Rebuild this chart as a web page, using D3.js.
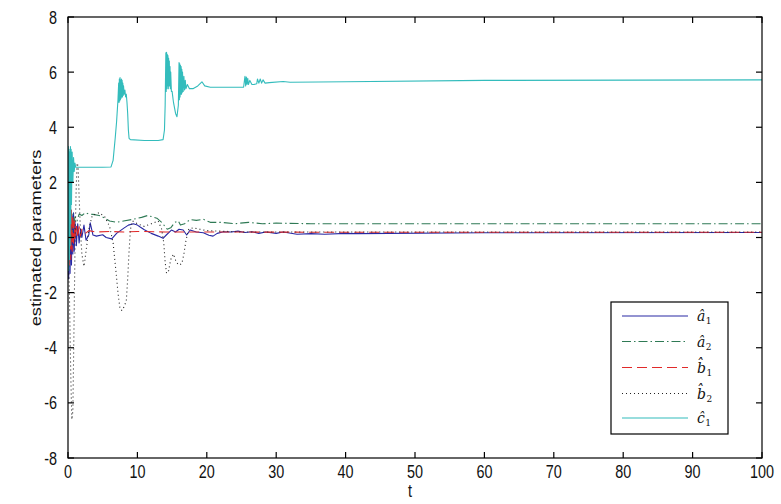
<!DOCTYPE html>
<html>
<head>
<meta charset="utf-8">
<script src="https://cdn.jsdelivr.net/npm/d3@7/dist/d3.min.js"></script>
<style>
  body { margin: 0; background: #fff; }
  svg { display: block; }
</style>
</head>
<body>
<svg id="chart" width="781" height="504"></svg>
<script>
// ---- data: parameter estimates over time, each point is [t, value] ----
const a1Data = [
  [0,0],[0.1,-1.5],[0.2,1.2],[0.3,-1.3],[0.4,1.0],[0.5,-1.0],[0.6,0.8],[0.7,-0.6],[0.8,0.9],
  [0.9,-0.5],[1.0,0.6],[1.2,-0.3],[1.4,0.5],[1.6,-0.2],[1.8,0.3],[2.0,0.0],[2.3,0.45],[2.6,-0.1],
  [3.0,0.1],[3.2,0.53],[3.6,0.09],[4.1,0.05],[5.0,0.1],[5.5,0.0],[6.3,-0.05],[7.0,0.15],[8.0,0.33],
  [8.7,0.45],[9.4,0.5],[10.0,0.45],[10.4,0.38],[11,0.28],[12,0.15],[13.0,0.05],[13.7,-0.03],
  [14.2,0.1],[14.9,0.27],[15.5,0.2],[16.0,0.3],[16.6,0.27],[17.1,0.09],[17.6,0.27],[18.5,0.2],
  [19.5,0.17],[20.3,0.08],[20.9,0.05],[21.5,0.15],[22.4,0.21],[23.5,0.2],[24.5,0.23],[25.5,0.18],
  [26.5,0.21],[27.5,0.15],[28.5,0.2],[30,0.15],[31,0.2],[33,0.12],[35,0.14],[37,0.12],[40,0.15],
  [41.6,0.14],[60,0.17],[100,0.18]
];
const a2Data = [
  [0,0],[0.1,0.9],[0.2,-0.6],[0.3,1.0],[0.4,-0.3],[0.5,0.9],[0.6,0.0],[0.7,0.85],[0.8,0.3],
  [1.0,0.75],[1.3,0.6],[1.6,0.85],[2.0,0.8],[2.5,0.9],[3.0,0.85],[3.6,0.84],[4.5,0.8],[5.1,0.73],
  [6.0,0.6],[7.0,0.55],[8.0,0.6],[9.4,0.66],[10.6,0.73],[11.5,0.8],[12.8,0.7],[13.5,0.55],
  [14.3,0.3],[14.8,0.35],[15.4,0.55],[15.9,0.6],[16.2,0.45],[16.8,0.5],[17.6,0.65],[18.5,0.62],
  [19.5,0.66],[20.5,0.55],[22,0.55],[24,0.5],[26,0.55],[28,0.5],[30,0.52],[35,0.5],[40,0.5],[100,0.5]
];
const b1Data = [
  [0,0],[0.1,1.3],[0.2,-1.0],[0.3,1.2],[0.4,-0.8],[0.5,1.0],[0.6,-0.5],[0.7,0.8],[0.8,-0.3],
  [0.9,0.6],[1.0,-0.1],[1.2,0.5],[1.4,0.0],[1.6,0.4],[1.8,0.05],[2.0,0.3],[2.5,0.15],[3,0.25],
  [4,0.2],[6,0.22],[8,0.2],[10,0.22],[14,0.2],[20,0.2],[40,0.19],[100,0.19]
];
const b2Data = [
  [0,0],[0.2,-2.0],[0.4,-5.0],[0.55,-6.6],[0.7,-6.3],[0.85,-3.5],[1.0,-0.5],[1.15,1.5],[1.3,2.7],
  [1.45,2.6],[1.6,1.5],[1.8,0.2],[2.0,-0.6],[2.3,-1.05],[2.6,-0.5],[3.0,0.3],[3.5,0.8],[4.5,0.9],
  [5.3,0.75],[6.0,0.4],[6.5,-0.2],[6.9,-1.2],[7.2,-2.0],[7.5,-2.6],[7.8,-2.65],[8.1,-2.5],
  [8.4,-2.3],[8.6,-1.5],[8.8,-0.5],[9.0,0.3],[9.3,0.6],[10,0.5],[11,0.4],[12,0.5],[13,0.6],
  [13.5,0.3],[13.8,-0.2],[14.0,-0.9],[14.2,-1.3],[14.5,-1.2],[14.8,-0.8],[15.2,-0.6],[15.6,-0.9],
  [16.0,-1.0],[16.4,-0.95],[16.7,-0.6],[17.0,-0.1],[17.4,0.3],[18,0.35],[19,0.3],[20,0.25],
  [25,0.2],[40,0.2],[100,0.2]
];
const c1Data = [
  [0,0],[0.05,3.3],[0.1,-1.2],[0.15,3.2],[0.2,-0.8],[0.25,3.1],[0.3,-0.3],[0.35,3.3],[0.4,0.5],
  [0.45,3.2],[0.5,1.2],[0.6,3.1],[0.7,2.0],[0.8,2.9],[0.9,2.4],[1.0,2.7],[1.1,2.55],[1.3,2.55],
  [3,2.55],[5,2.55],[6.2,2.56],[6.5,2.8],[6.8,3.6],[7.0,4.2],[7.2,5.0],
  [7.3,5.6],[7.35,4.9],[7.4,5.75],[7.45,4.95],[7.5,5.8],[7.55,5.0],[7.6,5.7],[7.65,5.05],
  [7.7,5.75],[7.75,5.1],[7.8,5.7],[7.85,5.1],[7.9,5.6],[7.95,5.15],[8.0,5.5],[8.1,5.2],
  [8.2,5.35],[8.3,5.1],[8.4,5.2],[8.5,4.9],[8.6,4.5],[8.7,3.9],[8.8,3.6],[9.0,3.55],[11,3.52],
  [13,3.52],[13.7,3.55],[13.9,3.9],[14.0,4.8],
  [14.1,6.7],[14.15,5.3],[14.2,6.72],[14.25,5.4],[14.3,6.65],[14.35,5.5],[14.4,6.6],[14.45,5.4],
  [14.5,6.5],[14.55,5.5],[14.6,6.4],[14.65,5.5],[14.7,6.2],[14.75,5.4],[14.8,6.0],[14.9,5.3],
  [15.0,5.3],[15.2,4.9],[15.5,4.5],[15.7,4.38],[15.9,4.8],
  [16.0,6.35],[16.05,5.0],[16.1,6.3],[16.15,5.1],[16.2,6.25],[16.25,5.2],[16.3,6.2],[16.35,5.2],
  [16.4,6.1],[16.45,5.25],[16.5,6.0],[16.6,5.3],[16.7,5.85],[16.8,5.35],[16.9,5.7],[17.0,5.4],
  [17.2,5.55],[17.5,5.4],[18.0,5.4],[18.7,5.5],[19.3,5.65],[19.7,5.5],[20.5,5.45],[25.3,5.45],
  [25.5,5.85],[25.6,5.5],[25.7,5.82],[25.8,5.55],[25.9,5.78],[26.0,5.55],[26.2,5.7],[26.5,5.55],
  [26.8,5.55],[27.2,5.58],[27.3,5.75],[27.5,5.6],[27.7,5.75],[27.9,5.6],[28.1,5.72],[28.4,5.6],
  [29,5.62],[31,5.66],[32,5.63],[40,5.65],[60,5.7],[100,5.72]
];

const xTicks = [0, 10, 20, 30, 40, 50, 60, 70, 80, 90, 100];
const yTicks = [-8, -6, -4, -2, 0, 2, 4, 6, 8];
// legend symbols: letter with combining circumflex, then subscript index
const legendSymbols = ["a\u0302", "a\u0302", "b\u0302", "b\u0302", "c\u0302"];
const legendSubs = ["1", "2", "1", "2", "1"];
const xLabel = "t";
const yLabel = "estimated parameters";

// ---- styling for each series ----
const series = [
  { data: a1Data, color: "#2828a4", dash: null },
  { data: a2Data, color: "#2f7a55", dash: "9,3,1.5,3" },
  { data: b1Data, color: "#e02a2a", dash: "10,5" },
  { data: b2Data, color: "#222222", dash: "1,3" },
  { data: c1Data, color: "#33bcbc", dash: null }
];

const W = 781, H = 504;
const mLeft = 68, mRight = 762, mTop = 17, mBottom = 458;
const FONT = "'Liberation Sans', Arial, sans-serif";
const STRETCH = 1.27;

const svg = d3.select("#chart");
svg.append("rect").attr("width", W).attr("height", H).attr("fill", "#fff");

const x = d3.scaleLinear().domain([0, 100]).range([mLeft, mRight]);
const y = d3.scaleLinear().domain([-8, 8]).range([mBottom, mTop]);

// clip curves to the axes box
svg.append("clipPath").attr("id", "plotClip")
  .append("rect").attr("x", mLeft).attr("y", mTop)
  .attr("width", mRight - mLeft).attr("height", mBottom - mTop);

const line = d3.line().x(d => x(d[0])).y(d => y(d[1]));
const plot = svg.append("g").attr("clip-path", "url(#plotClip)");
series.forEach(s => {
  plot.append("path")
    .attr("d", line(s.data))
    .attr("fill", "none")
    .attr("stroke", s.color)
    .attr("stroke-width", 1.1)
    .attr("stroke-linejoin", "round")
    .attr("stroke-dasharray", s.dash);
});

// ---- axes box with inward ticks on all four sides ----
const axes = svg.append("g").attr("stroke", "#000").attr("stroke-width", 1.2);
axes.append("rect").attr("x", mLeft).attr("y", mTop)
  .attr("width", mRight - mLeft).attr("height", mBottom - mTop).attr("fill", "none");
const TL = 6;
xTicks.forEach(t => {
  axes.append("line").attr("x1", x(t)).attr("x2", x(t)).attr("y1", mBottom).attr("y2", mBottom - TL);
  axes.append("line").attr("x1", x(t)).attr("x2", x(t)).attr("y1", mTop).attr("y2", mTop + TL);
});
yTicks.forEach(v => {
  axes.append("line").attr("x1", mLeft).attr("x2", mLeft + TL).attr("y1", y(v)).attr("y2", y(v));
  axes.append("line").attr("x1", mRight).attr("x2", mRight - TL).attr("y1", y(v)).attr("y2", y(v));
});

// tick labels
const labels = svg.append("g").attr("font-family", FONT).attr("font-size", 14.4).attr("fill", "#111");
xTicks.forEach(t => {
  labels.append("text")
    .attr("transform", `translate(${x(t)},478) scale(1,${STRETCH})`)
    .attr("text-anchor", "middle")
    .text(t);
});
yTicks.forEach(v => {
  labels.append("text")
    .attr("transform", `translate(57,${y(v) + 6.5}) scale(1,${STRETCH})`)
    .attr("text-anchor", "end")
    .text(v);
});
labels.append("text")
  .attr("transform", `translate(${(mLeft + mRight) / 2 - 5},497) scale(1,${STRETCH})`)
  .attr("text-anchor", "middle")
  .text(xLabel);
labels.append("text")
  .attr("transform", `translate(41,238) rotate(-90) scale(${STRETCH},1)`)
  .attr("text-anchor", "middle")
  .text(yLabel);

// ---- legend ----
const lg = svg.append("g");
lg.append("rect").attr("x", 611).attr("y", 302).attr("width", 117).attr("height", 132)
  .attr("fill", "#fff").attr("stroke", "#000").attr("stroke-width", 1.2);
const rowY = [316, 341.5, 367.5, 393.5, 418];
series.forEach((s, i) => {
  const yy = rowY[i];
  lg.append("line").attr("x1", 622).attr("x2", 688).attr("y1", yy).attr("y2", yy)
    .attr("stroke", s.color).attr("stroke-width", 1.2).attr("stroke-dasharray", s.dash);
  const txt = lg.append("text")
    .attr("x", 697).attr("y", yy + 5)
    .attr("font-family", "'DejaVu Serif', 'Liberation Serif', serif")
    .attr("font-size", 14).attr("fill", "#111");
  txt.append("tspan").attr("font-style", "italic").text(legendSymbols[i]);
  txt.append("tspan")
    .attr("dx", 0.5).attr("dy", 3)
    .attr("font-size", 9)
    .text(legendSubs[i]);
});
</script>
</body>
</html>
